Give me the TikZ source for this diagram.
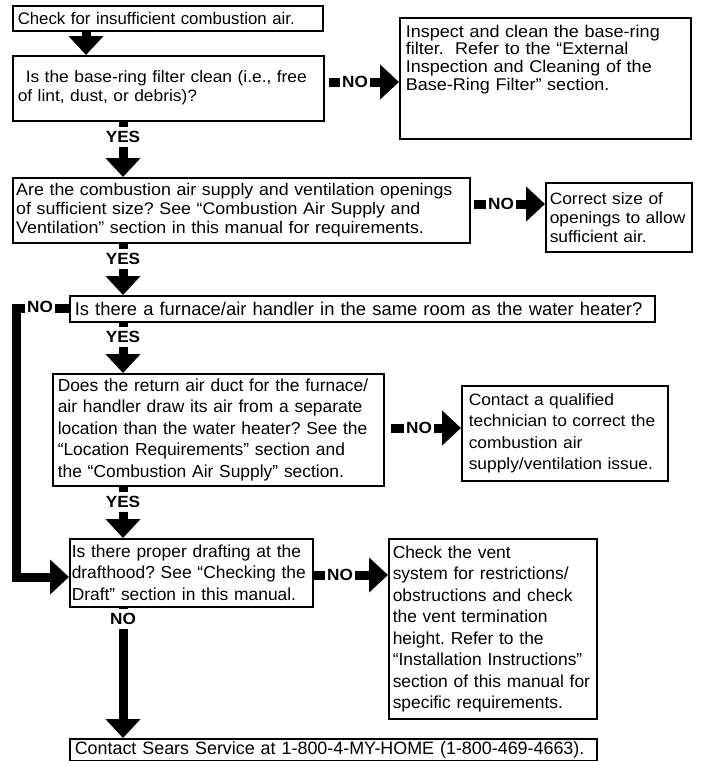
\documentclass[tikz,border=0pt]{standalone}
\usepackage{fontspec}
\setmainfont{Liberation Sans}
\newfontfamily\widefont[FakeStretch=1.06]{Liberation Sans}
\usetikzlibrary{arrows.meta}
\newcommand\upperfont{\widefont\fontsize{16.4pt}{19pt}\selectfont}
\newcommand\lowerfont{\fontsize{17.4pt}{21.5pt}\selectfont}
\newcommand\lblfont{\widefont\bfseries\fontsize{16.2pt}{18pt}\selectfont}

\begin{document}
\frenchspacing
\begin{tikzpicture}[x=1pt,y=-1pt,
  box/.style={draw,line width=1.5pt,anchor=north west,align=left,
              inner xsep=5pt,inner ysep=1pt,font=\upperfont},
  lowbox/.style={box,font=\lowerfont},
  lbl/.style={fill=white,inner xsep=2pt,inner ysep=4pt,font=\lblfont},
  conn/.style={line width=9pt,-{Triangle[length=19pt,width=34pt]}}]
  \useasboundingbox (0,0) rectangle (704,761);
  \coordinate (spine) at (123,0);
  \node[box,text width=300pt,minimum height=25pt,
        font=\fontsize{16.8pt}{19pt}\selectfont] (chk) at (12,5)
    {Check for insufficient combustion air.};
  \node[box,text width=301pt,minimum height=65pt] (filt) at (12,55)
    {\hspace*{8pt}Is the base-ring filter clean (i.e., free\\of lint, dust, or debris)?};
  \node[box,text width=279pt,inner xsep=6pt,minimum height=121pt,
        font=\widefont\fontsize{17pt}{17.8pt}\selectfont] (insp) at (399,17)
    {\rule{0pt}{18pt}Inspect and clean the base-ring\\filter.\ \ Refer to the “External\\
     Inspection and Cleaning of the\\Base-Ring Filter” section.\rule[-47pt]{0pt}{0pt}};
  \node[box,text width=450pt,inner xsep=3.5pt,minimum height=65pt,
        font=\widefont\fontsize{16.8pt}{19pt}\selectfont] (opng) at (12,177)
    {Are the combustion air supply and ventilation openings\\of sufficient size? See “Combustion Air Supply and\\
     Ventilation” section in this manual for requirements.};
  \node[box,text width=138pt,inner xsep=4pt,minimum height=69pt] (size) at (545,182)
    {Correct size of\\openings to allow\\sufficient air.};
  \node[lowbox,text width=575pt,minimum height=26pt,
        font=\fontsize{18.4pt}{21.5pt}\selectfont] (furn) at (69,295)
    {Is there a furnace/air handler in the same room as the water heater?};
  \node[lowbox,text width=321pt,minimum height=112pt] (duct) at (52,373)
    {Does the return air duct for the furnace/\\air handler draw its air from a separate\\
     location than the water heater? See the\\“Location Requirements” section and\\
     the “Combustion Air Supply” section.};
  \node[box,text width=192pt,inner xsep=7pt,minimum height=95pt,
        font=\widefont\fontsize{16.4pt}{21.5pt}\selectfont] (tech) at (461,385)
    {Contact a qualified\\technician to correct the\\combustion air\\supply/ventilation issue.};
  \node[lowbox,text width=239pt,inner xsep=2pt,minimum height=68pt] (draft) at (69,538)
    {Is there proper drafting at the\\drafthood? See “Checking the\\Draft” section in this manual.};
  \node[lowbox,text width=200pt,inner xsep=4pt,minimum height=180pt] (vent) at (388,538)
    {Check the vent\\system for restrictions/\\obstructions and check\\the vent termination\\
     height. Refer to the\\“Installation Instructions”\\section of this manual for\\specific requirements.};
  \node[lowbox,text width=517pt,minimum height=22pt,
        font=\fontsize{17.9pt}{21.5pt}\selectfont] (sears) at (69,738)
    {Contact Sears Service at 1-800-4-MY-HOME (1-800-469-4663).};
  \draw[conn] (chk.south -| 86,0) -- (filt.north -| 86,0);
  \draw[conn] (filt.south -| spine) -- (opng.north -| spine);
  \draw[conn,shorten <=4pt] (filt.east |- 0,82) -- (insp.west |- 0,82);
  \draw[conn] (opng.south -| spine) -- (furn.north -| spine);
  \draw[conn,shorten <=3pt] (opng.east |- 0,204) -- (size.west |- 0,204);
  \draw[conn] (furn.south -| spine) -- (duct.north -| spine);
  \draw[conn] (furn.west) -- ++(-53,0) |- (draft.west |- 0,577);
  \draw[conn] (duct.south -| spine) -- (draft.north -| spine);
  \draw[conn,shorten <=6pt] (duct.east |- 0,428) -- (tech.west |- 0,428);
  \draw[conn] (draft.south -| spine) -- (sears.north -| spine);
  \draw[conn] (draft.east |- 0,575) -- (vent.west |- 0,575);
  \node[lbl] (yes1) at (123,137) {YES};
  \node[lbl] (no1) at (355,82) {NO};
  \node[lbl] (yes2) at (123,259) {YES};
  \node[lbl] (no2) at (501,204) {NO};
  \node[lbl] (yes3) at (123,337) {YES};
  \node[lbl] (no3) at (40,307) {NO};
  \node[lbl] (yes4) at (123,502) {YES};
  \node[lbl] (no4) at (419,428) {NO};
  \node[lbl] (no5) at (340,575) {NO};
  \node[lbl] (no6) at (123,619) {NO};
\end{tikzpicture}
\end{document}
